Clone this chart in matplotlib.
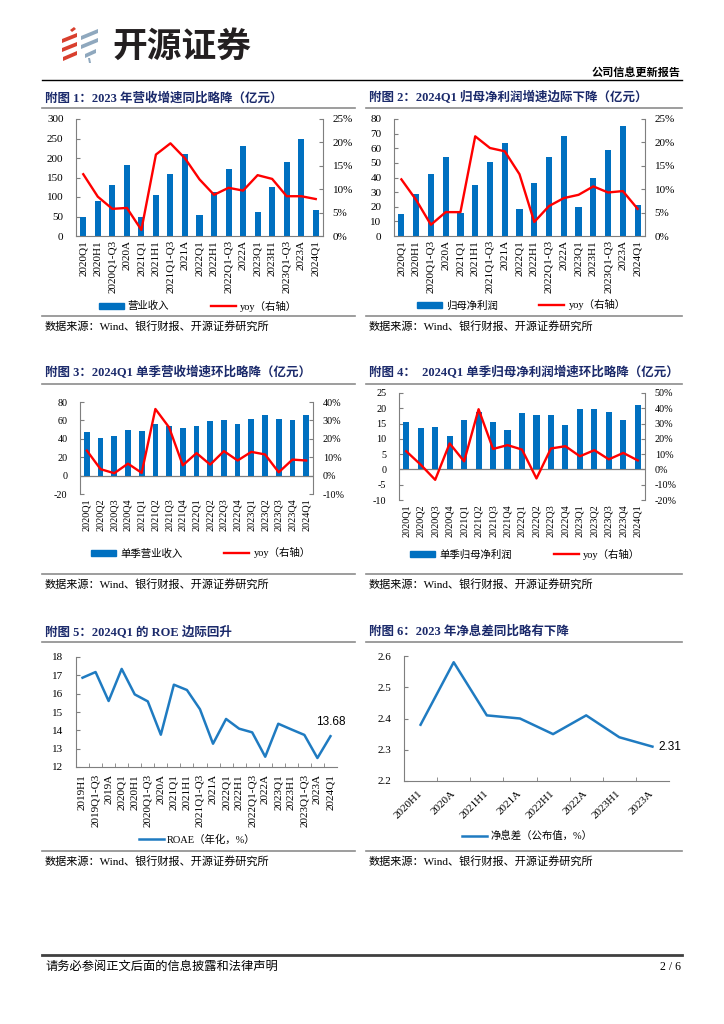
import matplotlib.pyplot as plt
from matplotlib.patches import Polygon, Patch
from matplotlib.lines import Line2D
from matplotlib.ticker import FuncFormatter, MultipleLocator

plt.rcParams['font.family'] = ['Liberation Serif', 'Noto Sans CJK SC']
plt.rcParams['axes.unicode_minus'] = False

# ---- data ----
cum_periods = ['2020Q1', '2020H1', '2020Q1-Q3', '2020A', '2021Q1', '2021H1', '2021Q1-Q3', '2021A',
               '2022Q1', '2022H1', '2022Q1-Q3', '2022A', '2023Q1', '2023H1', '2023Q1-Q3', '2023A', '2024Q1']
revenue = [48, 89, 132, 181, 48, 104, 158, 209, 55, 113, 173, 230, 62, 126, 189, 250, 66]
revenue_yoy = [13.2, 8.4, 5.8, 6.0, 1.3, 17.4, 19.8, 16.6, 12.1, 8.8, 10.3, 9.7, 13.0, 12.2, 8.5, 8.5, 7.9]
profit = [15.3, 28.8, 42.5, 53.7, 16.0, 35.0, 50.5, 63.3, 18.3, 35.9, 54.0, 68.3, 19.9, 39.8, 58.5, 75.0, 21.0]
profit_yoy = [12.1, 7.7, 2.4, 5.1, 5.1, 21.3, 18.8, 18.1, 13.2, 3.0, 6.4, 8.1, 8.8, 10.6, 9.3, 9.6, 5.8]

quarters = ['2020Q1', '2020Q2', '2020Q3', '2020Q4', '2021Q1', '2021Q2', '2021Q3', '2021Q4',
            '2022Q1', '2022Q2', '2022Q3', '2022Q4', '2023Q1', '2023Q2', '2023Q3', '2023Q4', '2024Q1']
q_revenue = [47.6, 41.0, 43.0, 49.5, 48.7, 56.0, 53.8, 52.0, 54.2, 59.3, 60.7, 56.0, 61.0, 65.8, 61.5, 60.7, 66.2]
q_revenue_yoy = [13.6, 3.5, 1.3, 6.5, 1.5, 36.2, 26.2, 5.6, 12.2, 6.0, 13.3, 8.2, 12.9, 11.5, 1.8, 8.7, 8.2]
q_profit = [15.5, 13.4, 13.8, 11.0, 16.1, 18.8, 15.6, 12.8, 18.3, 17.7, 17.7, 14.5, 19.9, 19.9, 18.9, 16.2, 21.0]
q_profit_yoy = [11.9, 3.1, -6.8, 17.0, 5.3, 39.4, 13.4, 15.9, 13.0, -5.9, 13.7, 15.2, 8.6, 12.6, 6.6, 10.8, 5.9]

roe_periods = ['2019H1', '2019Q1-Q3', '2019A', '2020Q1', '2020H1', '2020Q1-Q3', '2020A', '2021Q1',
               '2021H1', '2021Q1-Q3', '2021A', '2022Q1', '2022H1', '2022Q1-Q3', '2022A', '2023Q1',
               '2023H1', '2023Q1-Q3', '2023A', '2024Q1']
roae = [16.87, 17.18, 15.60, 17.35, 15.96, 15.58, 13.76, 16.49, 16.20, 15.15, 13.27, 14.62, 14.09,
        13.89, 12.56, 14.36, 14.05, 13.75, 12.49, 13.68]

nim_periods = ['2020H1', '2020A', '2021H1', '2021A', '2022H1', '2022A', '2023H1', '2023A']
nim = [2.38, 2.58, 2.41, 2.40, 2.35, 2.41, 2.34, 2.31]

titles = ['附图 1：2023 年营收增速同比略降（亿元）',
          '附图 2：2024Q1 归母净利润增速边际下降（亿元）',
          '附图 3：2024Q1 单季营收增速环比略降（亿元）',
          '附图 4：  2024Q1 单季归母净利润增速环比略降（亿元）',
          '附图 5：2024Q1 的 ROE 边际回升',
          '附图 6：2023 年净息差同比略有下降']
source = '数据来源：Wind、银行财报、开源证券研究所'

NAVY = '#1B2A6B'
BLUE = '#0070C0'
LINE_BLUE = '#1F7BC1'
RED = '#FF0000'
GRAY = '#7F7F7F'

W, H = 724, 1024
fig = plt.figure(figsize=(7.24, 10.24), dpi=100)


def box(l, t, r, b):
    return [l / W, 1 - b / H, (r - l) / W, (b - t) / H]


# page layer in pixel coordinates
page = fig.add_axes([0, 0, 1, 1])
page.set_xlim(0, W)
page.set_ylim(H, 0)
page.axis('off')

# logo
red_parts = [[(70, 30), (74, 27), (76, 29), (72, 32)],
             [(62, 39), (77, 33), (77, 37), (62, 43)],
             [(62, 48), (77, 42), (77, 46), (62, 52)],
             [(63, 57), (77, 51), (77, 55), (63, 61)]]
grey_parts = [[(81, 36), (98, 29), (98, 33), (81, 40)],
              [(81, 45), (98, 38), (98, 42), (81, 49)],
              [(85, 54), (96, 49), (96, 53), (85, 58)],
              [(88, 58), (90, 58), (91, 63), (89, 63)]]
for pts in red_parts:
    page.add_patch(Polygon(pts, closed=True, color='#D9402E', lw=0))
for pts in grey_parts:
    page.add_patch(Polygon(pts, closed=True, color='#8FA8BE', lw=0))
page.text(112, 46, '开源证券', fontsize=25, fontweight='bold', color='#231F20',
          family=['Noto Sans CJK SC'], va='center', ha='left')

page.text(681, 73, '公司信息更新报告', fontsize=8, fontweight='bold', ha='right', va='center')
page.plot([42, 682], [80, 80], color='black', lw=1.0)

# footer
page.plot([42, 682], [955, 955], color='#404040', lw=2.0)
page.text(45, 967, '请务必参阅正文后面的信息披露和法律声明', fontsize=8.8, va='center')
page.text(681, 967, '2 / 6', fontsize=8.5, ha='right', va='center')

# section titles, rules and sources
cols = [(42, 355), (366, 682)]
rows = [(98, 108, 316, 326), (373, 384, 574, 584), (632, 642, 851, 861)]
for i, title in enumerate(titles):
    (x0, x1), (ty, tl, sl, sy) = cols[i % 2], rows[i // 2]
    page.text(x0 + 3, ty, title, fontsize=9, fontweight='bold', color=NAVY, va='center')
    page.plot([x0, x1], [tl, tl], color='#8C8C8C', lw=1.2)
    page.plot([x0, x1], [sl, sl], color='#8C8C8C', lw=1.2)
    page.text(x0 + 3, sy, source, fontsize=8, va='center')


def pct(v, p):
    return f'{v:.0f}%'


def bar_line(rect, cats, bars, yoy, ylim, ystep, rlim, rstep, label, fs, zero_line, legend_xy):
    ax = fig.add_axes(box(*rect))
    x = list(range(len(cats)))
    ax.bar(x, bars, width=0.42, color=BLUE, zorder=2)
    ax.set_xlim(-0.5, len(cats) - 0.5)
    ax.set_ylim(*ylim)
    ax.yaxis.set_major_locator(MultipleLocator(ystep))
    ax.set_xticks(x)
    ax.set_xticklabels(cats, rotation=90, fontsize=fs)
    ax.tick_params(axis='x', length=0, pad=3)
    ax.tick_params(axis='y', direction='in', length=3, pad=9, labelsize=fs, color=GRAY)
    for s in ['top', 'right']:
        ax.spines[s].set_visible(False)
    ax.spines['left'].set_color(GRAY)
    if zero_line:
        ax.spines['bottom'].set_visible(False)
        ax.axhline(0, color=GRAY, lw=0.9, zorder=1)
    else:
        ax.spines['bottom'].set_color(GRAY)

    ax2 = ax.twinx()
    ax2.plot(x, yoy, color=RED, lw=1.7, zorder=3)
    ax2.set_ylim(*rlim)
    ax2.yaxis.set_major_locator(MultipleLocator(rstep))
    ax2.yaxis.set_major_formatter(FuncFormatter(pct))
    ax2.tick_params(axis='y', direction='in', length=3, pad=7, labelsize=fs, color=GRAY)
    for s in ['top', 'left', 'bottom']:
        ax2.spines[s].set_visible(False)
    ax2.spines['right'].set_color(GRAY)

    handles = [Patch(color=BLUE, label=label),
               Line2D([], [], color=RED, lw=1.7, label='yoy（右轴）')]
    fig.legend(handles=handles, loc='center', ncol=2, frameon=False, fontsize=7.5,
               bbox_to_anchor=(legend_xy[0] / W, 1 - legend_xy[1] / H),
               handlelength=2.4, handleheight=0.6, handletextpad=0.4, columnspacing=4)


bar_line((76, 119, 323, 236), cum_periods, revenue, revenue_yoy, (0, 300), 50, (0, 25), 5,
         '营业收入', 8, False, (198, 306))
bar_line((394, 119, 645, 236), cum_periods, profit, profit_yoy, (0, 80), 10, (0, 25), 5,
         '归母净利润', 8, False, (521, 305))
bar_line((80, 402, 313, 494), quarters, q_revenue, q_revenue_yoy, (-20, 80), 20, (-10, 40), 10,
         '单季营业收入', 7.3, True, (201, 553))
bar_line((399, 393, 645, 500), quarters, q_profit, q_profit_yoy, (-10, 25), 5, (-20, 50), 10,
         '单季归母净利润', 7.3, True, (525, 554))


def line_chart(rect, cats, vals, ylim, ystep, label, legend_xy, rot):
    ax = fig.add_axes(box(*rect))
    x = list(range(len(cats)))
    ax.plot(x, vals, color=LINE_BLUE, lw=1.8)
    ax.set_xlim(-0.5, len(cats) - 0.5)
    ax.set_ylim(*ylim)
    ax.yaxis.set_major_locator(MultipleLocator(ystep))
    ax.set_xticks(x)
    ax.set_xticks([i + 0.5 for i in x[:-1]], minor=True)
    if rot == 90:
        ax.set_xticklabels(cats, rotation=90, fontsize=8)
        ax.tick_params(axis='x', which='major', length=0, pad=5)
    else:
        ax.set_xticklabels(cats, rotation=45, ha='right', va='center',
                           rotation_mode='anchor', fontsize=8)
        ax.tick_params(axis='x', which='major', length=0, pad=8)
    ax.tick_params(axis='x', which='minor', direction='in', length=3, color=GRAY)
    ax.tick_params(axis='y', direction='in', length=3, pad=9, labelsize=8, color=GRAY)
    for s in ['top', 'right']:
        ax.spines[s].set_visible(False)
    ax.spines['left'].set_color(GRAY)
    ax.spines['bottom'].set_color(GRAY)
    handles = [Line2D([], [], color=LINE_BLUE, lw=1.8, label=label)]
    fig.legend(handles=handles, loc='center', frameon=False, fontsize=7.5,
               bbox_to_anchor=(legend_xy[0] / W, 1 - legend_xy[1] / H),
               handlelength=2.4, handletextpad=0.3)
    return ax


ax5 = line_chart((76, 657, 337, 767), roe_periods, roae, (12, 18), 1, 'ROAE（年化，%）', (197, 840), 90)
ax5.annotate(f'{roae[-1]:.2f}', (len(roae) - 1, roae[-1]), xytext=(0, 6), textcoords='offset points',
             ha='center', va='bottom', fontsize=8.5, family=['Liberation Sans'])

ax6 = line_chart((404, 656, 669, 781), nim_periods, nim, (2.2, 2.6), 0.1, '净息差（公布值，%）', (527, 836), 45)
ax6.annotate(f'{nim[-1]:.2f}', (len(nim) - 1, nim[-1]), xytext=(4, 0), textcoords='offset points',
             ha='left', va='center', fontsize=8.5, family=['Liberation Sans'])

fig.savefig('out.png', dpi=100)
